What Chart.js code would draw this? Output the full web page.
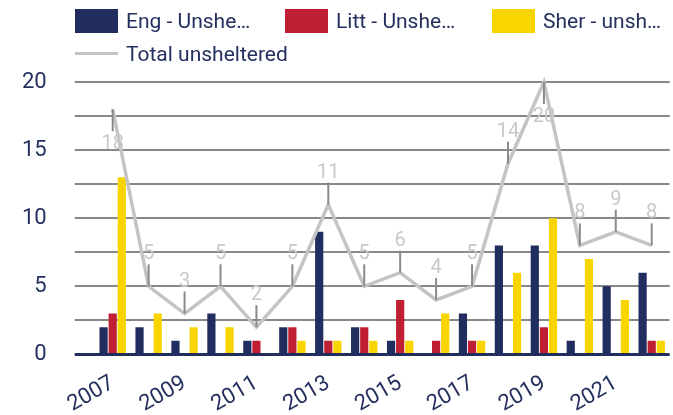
<!DOCTYPE html>
<html lang="en">
<head>
  <meta charset="UTF-8">
  <title>Unsheltered counts</title>
  <script src="https://cdn.jsdelivr.net/npm/chart.js"></script>
  <style>
    body { margin: 0; background: #fff; font-family: Roboto, sans-serif; overflow: hidden; }
    #wrap { position: relative; width: 673px; height: 415px; overflow: hidden; }
    #chart { position: absolute; left: -6px; top: 0; }
    #legend { position: absolute; left: 75px; top: 4px; color: #24305e; font-size: 21px; white-space: nowrap; }
    .row { display: flex; height: 33px; align-items: center; }
    .item { display: flex; align-items: center; }
    .box { width: 43px; height: 24px; margin-right: 8px; }
    .ln { width: 43px; height: 3px; background: #c4c4c4; margin-right: 8px; }
  </style>
</head>
<body>
  <div id="wrap">
    <canvas id="chart" width="679" height="426"></canvas>
    <div id="legend"></div>
  </div>

  <script>
    const years = ['2007','2008','2009','2010','2011','2012','2013','2014','2015','2016','2017','2018','2019','2020','2021','2022'];
    const eng   = [2, 2, 1, 3, 1, 2, 9, 2, 1, 0, 3, 8, 8, 1, 5, 6];
    const litt  = [3, 0, 0, 0, 1, 2, 1, 2, 4, 1, 1, 0, 2, 0, 0, 1];
    const sher  = [13, 3, 2, 2, 0, 1, 1, 1, 1, 3, 1, 6, 10, 7, 4, 1];
    const total = [18, 5, 3, 5, 2, 5, 11, 5, 6, 4, 5, 14, 20, 8, 9, 8];
    const seriesNames = ['Eng - Unshe…', 'Litt - Unshe…', 'Sher - unsh…', 'Total unsheltered'];
    const labelsBelow = [0, 12];

    const navy = '#212c5f', red = '#c01f33', yellow = '#f9d500', gray = '#c4c4c4';
    const textColor = '#24305e';

    // legend
    const lg = document.getElementById('legend');
    lg.innerHTML =
      '<div class="row">' +
        '<div class="item" style="width:210px"><div class="box" style="background:' + navy + '"></div>' + seriesNames[0] + '</div>' +
        '<div class="item" style="width:207px"><div class="box" style="background:' + red + '"></div>' + seriesNames[1] + '</div>' +
        '<div class="item"><div class="box" style="background:' + yellow + '"></div>' + seriesNames[2] + '</div>' +
      '</div>' +
      '<div class="row"><div class="item"><div class="ln"></div>' + seriesNames[3] + '</div></div>';

    const leaderLabels = {
      id: 'leaderLabels',
      afterDatasetsDraw(chart) {
        const ctx = chart.ctx;
        const meta = chart.getDatasetMeta(3);
        ctx.save();
        ctx.font = '20px Roboto';
        ctx.textAlign = 'center';
        ctx.textBaseline = 'middle';
        meta.data.forEach((pt, i) => {
          const below = labelsBelow.includes(i);
          const dir = below ? 1 : -1;
          ctx.strokeStyle = '#8a8a8a';
          ctx.lineWidth = 2;
          ctx.beginPath();
          ctx.moveTo(pt.x, pt.y);
          ctx.lineTo(pt.x, pt.y + dir * 22);
          ctx.stroke();
          ctx.fillStyle = '#c8c8c8';
          ctx.fillText(total[i], pt.x, pt.y + dir * (below ? 35 : 32));
        });
        ctx.restore();
      }
    };

    new Chart(document.getElementById('chart'), {
      data: {
        labels: years,
        datasets: [
          { type: 'bar', label: seriesNames[0], data: eng, backgroundColor: navy, order: 1 },
          { type: 'bar', label: seriesNames[1], data: litt, backgroundColor: red, order: 1 },
          { type: 'bar', label: seriesNames[2], data: sher, backgroundColor: yellow, order: 1 },
          { type: 'line', label: seriesNames[3], data: total, borderColor: gray, borderWidth: 3.5,
            pointRadius: 0, tension: 0, clip: false, order: 0 }
        ]
      },
      options: {
        responsive: false,
        animation: false,
        layout: { autoPadding: false, padding: { top: 82, right: 3, left: 0, bottom: 0 } },
        datasets: { bar: { categoryPercentage: 0.76, barPercentage: 0.9 } },
        plugins: { legend: { display: false }, tooltip: { enabled: false } },
        scales: {
          x: {
            grid: { display: false },
            border: { display: false },
            ticks: {
              autoSkip: false, minRotation: 30, maxRotation: 30, padding: 8,
              color: textColor, font: { family: 'Roboto', size: 22 },
              callback: (v, i) => i % 2 === 0 ? years[i] : ''
            }
          },
          y: {
            min: 0, max: 20,
            border: { display: false },
            grid: {
              tickLength: 20,
              color: c => c.tick.value === 0 ? navy : '#888888',
              lineWidth: c => c.tick.value === 0 ? 3 : 2
            },
            ticks: {
              stepSize: 2.5, padding: 28,
              color: textColor, font: { family: 'Roboto', size: 22 },
              callback: v => v % 5 === 0 ? v : ''
            }
          }
        }
      },
      plugins: [leaderLabels]
    });
  </script>
</body>
</html>
